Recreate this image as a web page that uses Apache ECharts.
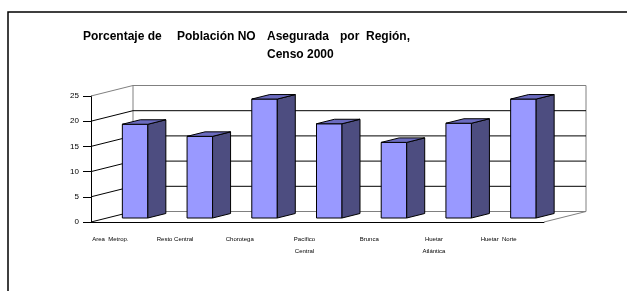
<!DOCTYPE html>
<html>
<head>
<meta charset="utf-8">
<title>Porcentaje de Población NO Asegurada por Región</title>
<script src="https://cdn.jsdelivr.net/npm/echarts@6/dist/echarts.min.js"></script>
<style>
html, body { margin: 0; padding: 0; background: #fff; }
#chart { width: 627px; height: 291px; }
</style>
</head>
<body>
<div id="chart"></div>
<script>
const regiones = ['Area  Metrop.', 'Resto Central', 'Chorotega', 'Pacífico\nCentral', 'Brunca', 'Huetar\nAtlántica', 'Huetar  Norte']
const porcentajes = [18.6, 16.2, 23.6, 18.7, 15.0, 18.8, 23.6]
const ticksY = [0, 5, 10, 15, 20, 25]

// desplazamiento de la pared del fondo (efecto 3D)
const DX = 42, DY = -10.5
// profundidad de cada barra
const BDX = 18, BDY = -4.5

function linea(x1, y1, x2, y2, color) {
  return { type: 'line', shape: { x1, y1, x2, y2 }, style: { stroke: color, lineWidth: 1 } }
}

function renderPared(params, api) {
  const r = params.coordSys
  const v = api.value(1)
  const y = api.coord([0, v])[1]
  const ultimo = ticksY[ticksY.length - 1]
  const gris = '#808080'
  const children = [
    linea(r.x, y, r.x + DX, y + DY, v === ultimo ? gris : '#000'),
    linea(r.x + DX, y + DY, r.x + r.width + DX, y + DY, (v === 0 || v === ultimo) ? gris : '#000')
  ]
  if (params.dataIndex === 0) {
    const yTop = api.coord([0, ultimo])[1]
    children.push(linea(r.x + DX, yTop + DY, r.x + DX, y + DY, gris))
    children.push(linea(r.x + r.width + DX, yTop + DY, r.x + r.width + DX, y + DY, gris))
    children.push(linea(r.x + r.width, y, r.x + r.width + DX, y + DY, gris))
  }
  return { type: 'group', children }
}

function renderBarra(params, api) {
  const i = api.value(0)
  const base = api.coord([i, 0])
  const cima = api.coord([i, api.value(1)])
  const x1 = base[0] - 1, x2 = base[0] + 24.5
  const y1 = cima[1] - 4, y2 = base[1] - 4
  const borde = { stroke: '#000', lineWidth: 1, lineJoin: 'round' }
  return {
    type: 'group',
    children: [
      { type: 'polygon', shape: { points: [[x1, y1], [x2, y1], [x2, y2], [x1, y2]] },
        style: Object.assign({ fill: '#9999FF' }, borde) },
      { type: 'polygon', shape: { points: [[x2, y1], [x2 + BDX, y1 + BDY], [x2 + BDX, y2 + BDY], [x2, y2]] },
        style: Object.assign({ fill: '#4D4D80' }, borde) },
      { type: 'polygon', shape: { points: [[x1, y1], [x1 + BDX, y1 + BDY], [x2 + BDX, y1 + BDY], [x2, y1]] },
        style: Object.assign({ fill: '#6B6BBF' }, borde) }
    ]
  }
}

const fuenteTitulo = { fontFamily: 'Liberation Sans, Arial', fontSize: 12, fontWeight: 'bold', color: '#000' }

let ch = echarts.init(document.getElementById('chart'))
let option = {
  animation: false,
  backgroundColor: '#fff',
  title: [
    {
      // el título original tiene las palabras muy separadas
      text: '{a|Porcentaje de}{b|Población NO}{c|Asegurada}{d|por  Región,}',
      left: 83, top: 31, padding: 0,
      textStyle: {
        rich: {
          a: Object.assign({ width: 94 }, fuenteTitulo),
          b: Object.assign({ width: 90 }, fuenteTitulo),
          c: Object.assign({ width: 73 }, fuenteTitulo),
          d: fuenteTitulo
        }
      }
    },
    {
      text: 'Censo 2000',
      left: 267, top: 49, padding: 0,
      textStyle: fuenteTitulo
    }
  ],
  graphic: [
    // marco del área del gráfico
    { type: 'rect', shape: { x: 8, y: 12, width: 700, height: 400 }, style: { fill: 'none', stroke: '#000', lineWidth: 1.5 }, z: 0 }
  ],
  grid: { left: 91, right: 83, top: 96, bottom: 69 },
  xAxis: {
    type: 'category',
    data: regiones,
    axisLine: { lineStyle: { color: '#000', width: 1 } },
    axisTick: { length: 4, lineStyle: { color: '#000' } },
    axisLabel: {
      interval: 0,
      color: '#000',
      fontFamily: 'Liberation Sans Narrow, Arial Narrow, Liberation Sans',
      fontSize: 6,
      lineHeight: 12,
      margin: 11,
      padding: [0, 26, 0, 0]
    }
  },
  yAxis: {
    type: 'value',
    min: ticksY[0],
    max: ticksY[ticksY.length - 1],
    interval: ticksY[1] - ticksY[0],
    axisLine: { show: true, lineStyle: { color: '#000', width: 1 } },
    axisTick: { show: true, length: 8, lineStyle: { color: '#000' } },
    axisLabel: { color: '#000', fontFamily: 'Liberation Sans, Arial', fontSize: 8, margin: 12 },
    splitLine: { show: false }
  },
  series: [
    {
      type: 'custom',
      renderItem: renderPared,
      data: ticksY.map(v => [0, v]),
      encode: { x: 0, y: 1 },
      silent: true,
      z: 1
    },
    {
      type: 'custom',
      renderItem: renderBarra,
      data: porcentajes.map((v, i) => [i, v]),
      encode: { x: 0, y: 1 },
      z: 2
    }
  ]
}
ch.setOption(option)
</script>
</body>
</html>
